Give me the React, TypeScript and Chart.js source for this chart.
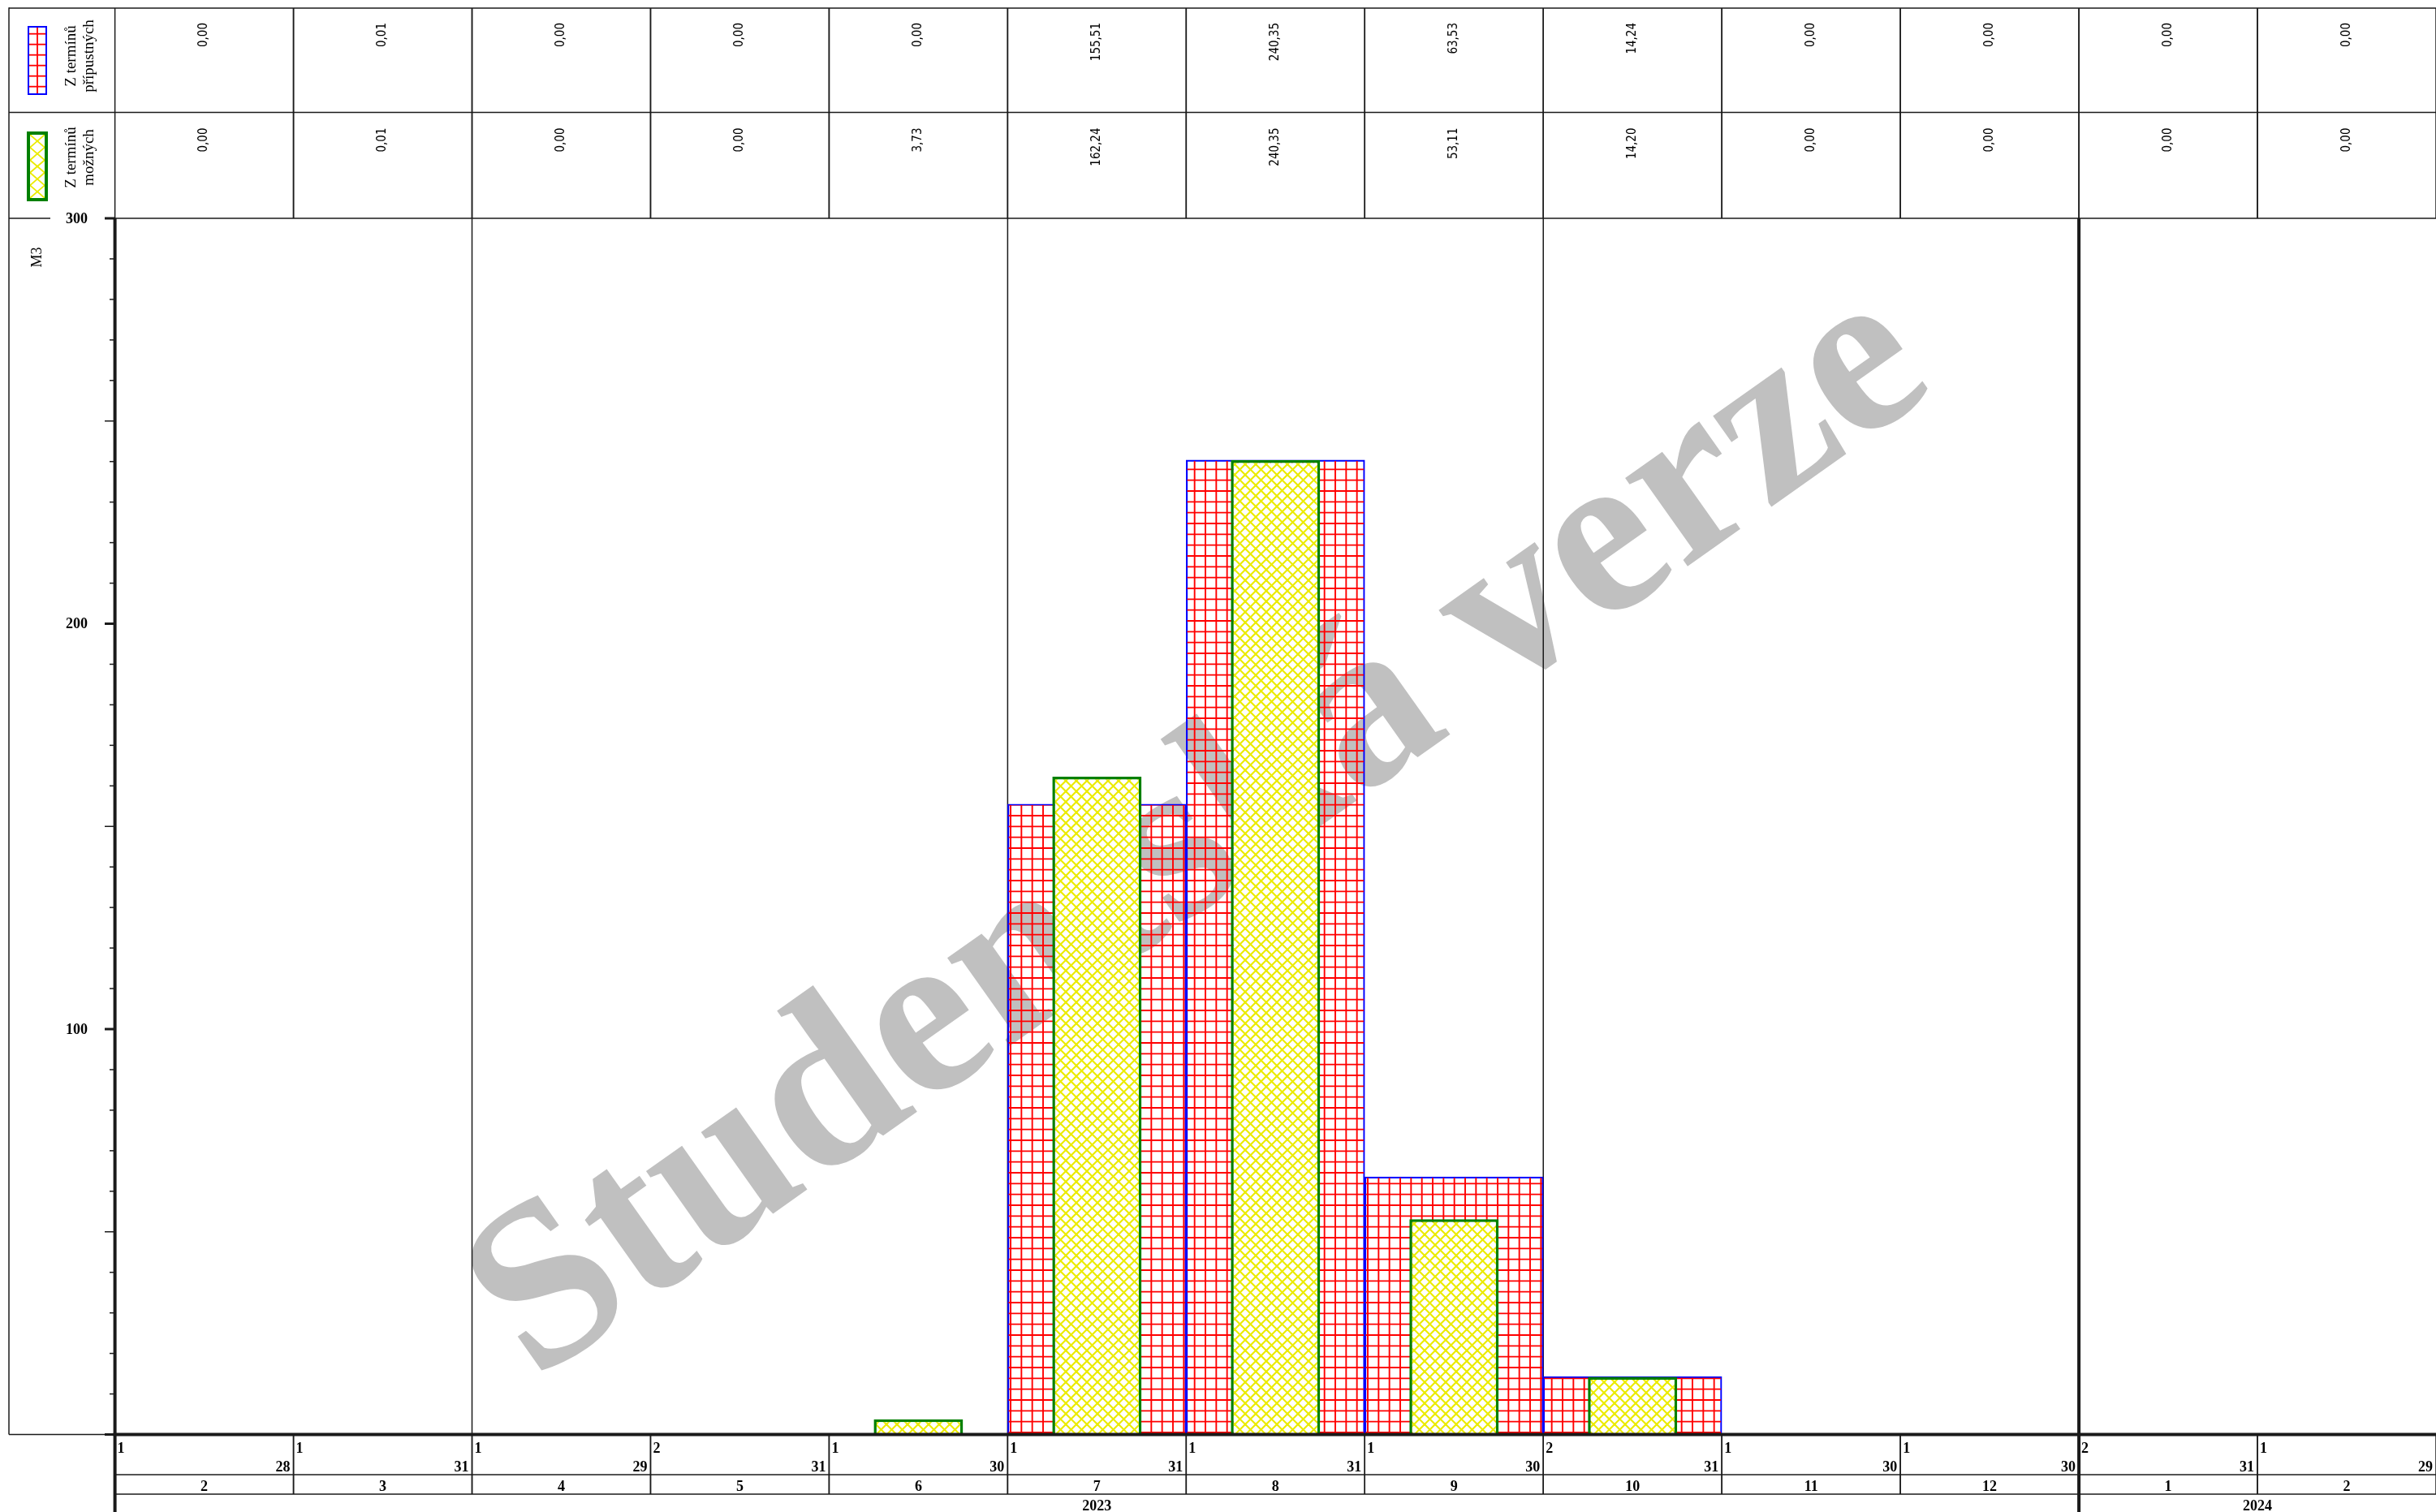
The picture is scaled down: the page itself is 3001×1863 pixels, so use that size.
import React, { useEffect, useRef } from 'react';
import { Chart, registerables } from 'chart.js';

Chart.register(...registerables);

// ---------- data ----------
const months = ['2', '3', '4', '5', '6', '7', '8', '9', '10', '11', '12', '1', '2'];
const years = ['2023', '2023', '2023', '2023', '2023', '2023', '2023', '2023', '2023', '2023', '2023', '2024', '2024'];
const firstDays = ['1', '1', '1', '2', '1', '1', '1', '1', '2', '1', '1', '2', '1'];
const lastDays = ['28', '31', '29', '31', '30', '31', '31', '30', '31', '30', '30', '31', '29'];
const pripustnych = [0.0, 0.01, 0.0, 0.0, 0.0, 155.51, 240.35, 63.53, 14.24, 0.0, 0.0, 0.0, 0.0];
const moznych = [0.0, 0.01, 0.0, 0.0, 3.73, 162.24, 240.35, 53.11, 14.2, 0.0, 0.0, 0.0, 0.0];
const yTickLabels = [100, 200, 300];
const seriesNames = [
  ['Z termínů', 'přípustných'],
  ['Z termínů', 'možných'],
];
const quarterStartMonths = ['4', '7', '10'];
const yAxisTitle = 'M3';
const watermarkText = 'Studentská verze';

// ---------- layout / style constants ----------
const W = 3001;
const H = 1863;
const LINE = '#1a1a1a';
const SERIF = "'Liberation Serif', 'Times New Roman', serif";
const VALUE_FONT = "15px 'DejaVu Sans Condensed', 'DejaVu Sans', sans-serif";
const FRAME_LEFT = 11;
const FRAME_TOP = 10;
const ROW1_BOTTOM = 138.5;
const DAY_ROW_BOTTOM = 1817;
const MONTH_ROW_BOTTOM = 1841;
const YELLOW = '#ebeb00';

const fmt = (v: number) => v.toFixed(2).replace('.', ',');

function makeGridPattern(ctx: CanvasRenderingContext2D) {
  const c = document.createElement('canvas');
  c.width = 40;
  c.height = 40;
  const g = c.getContext('2d')!;
  g.strokeStyle = '#ff0000';
  g.lineWidth = 1.9;
  for (let k = 0; k < 3; k++) {
    const p = (k * 40) / 3 + 5;
    g.beginPath();
    g.moveTo(p, 0);
    g.lineTo(p, 40);
    g.stroke();
    g.beginPath();
    g.moveTo(0, p);
    g.lineTo(40, p);
    g.stroke();
  }
  return ctx.createPattern(c, 'repeat')!;
}

function makeDiamondPattern(ctx: CanvasRenderingContext2D, s: number) {
  const c = document.createElement('canvas');
  c.width = s;
  c.height = s;
  const g = c.getContext('2d')!;
  g.fillStyle = '#ffffff';
  g.fillRect(0, 0, s, s);
  g.strokeStyle = YELLOW;
  g.lineWidth = 2.1;
  for (const o of [-s, 0, s]) {
    g.beginPath();
    g.moveTo(o, 0);
    g.lineTo(o + s, s);
    g.stroke();
    g.beginPath();
    g.moveTo(o + s, 0);
    g.lineTo(o, s);
    g.stroke();
  }
  return ctx.createPattern(c, 'repeat')!;
}

function line(ctx: CanvasRenderingContext2D, x1: number, y1: number, x2: number, y2: number, w = 1.5, color = LINE) {
  ctx.save();
  ctx.strokeStyle = color;
  ctx.lineWidth = w;
  ctx.beginPath();
  ctx.moveTo(x1, y1);
  ctx.lineTo(x2, y2);
  ctx.stroke();
  ctx.restore();
}

function colEdges(x: any): [number, number][] {
  const w = x.getPixelForValue(1) - x.getPixelForValue(0);
  return months.map((_, i) => {
    const c = x.getPixelForValue(i);
    return [c - w / 2, c + w / 2];
  });
}

function rotatedText(ctx: CanvasRenderingContext2D, text: string, x: number, y: number, align: CanvasTextAlign, font: string) {
  ctx.save();
  ctx.translate(x, y);
  ctx.rotate(-Math.PI / 2);
  ctx.font = font;
  ctx.fillStyle = '#000';
  ctx.textAlign = align;
  ctx.textBaseline = 'middle';
  ctx.fillText(text, 0, 0);
  ctx.restore();
}

const planPlugin = {
  id: 'planPlugin',
  beforeDraw(chart: any) {
    const c = chart.ctx;
    c.save();
    c.fillStyle = '#ffffff';
    c.fillRect(0, 0, chart.width, chart.height);
    c.restore();
  },
  beforeDatasetsDraw(chart: any) {
    const { ctx, chartArea: a, scales } = chart;
    const edges = colEdges(scales.x);
    // watermark
    ctx.save();
    ctx.beginPath();
    ctx.rect(a.left, a.top, a.right - a.left, a.bottom - a.top);
    ctx.clip();
    ctx.translate(1480, 1030);
    ctx.rotate((-35.3 * Math.PI) / 180);
    ctx.font = `bold 290px ${SERIF}`;
    ctx.fillStyle = '#c0c0c0';
    ctx.textAlign = 'center';
    ctx.textBaseline = 'middle';
    ctx.fillText(watermarkText, 0, 0);
    ctx.restore();
    // quarter grid lines
    months.forEach((m, i) => {
      if (quarterStartMonths.includes(m)) line(ctx, edges[i][0], a.top, edges[i][0], a.bottom, 1.5);
    });
  },
  afterDatasetsDraw(chart: any) {
    const { ctx, chartArea: a, scales } = chart;
    const x = scales.x;
    const y = scales.y;
    const edges = colEdges(x);
    const right = chart.width;
    const axisLeft = a.left;
    const rowTop2 = ROW1_BOTTOM;
    const plotTop = y.getPixelForValue(300);
    const plotBottom = y.getPixelForValue(0);

    // ---- top table ----
    line(ctx, FRAME_LEFT, FRAME_TOP, right, FRAME_TOP);
    line(ctx, FRAME_LEFT, rowTop2, right, rowTop2);
    line(ctx, FRAME_LEFT, FRAME_TOP - 0.75, FRAME_LEFT, plotBottom);
    line(ctx, FRAME_LEFT, plotTop, 62, plotTop);
    line(ctx, axisLeft, plotTop, right, plotTop);
    edges.forEach(([l, r]) => {
      line(ctx, l, FRAME_TOP, l, plotTop);
      line(ctx, r, FRAME_TOP, r, plotTop);
    });
    edges.forEach(([l, r], i) => {
      const cx = (l + r) / 2;
      rotatedText(ctx, fmt(pripustnych[i]), cx, FRAME_TOP + 18, 'right', VALUE_FONT);
      rotatedText(ctx, fmt(moznych[i]), cx, rowTop2 + 19, 'right', VALUE_FONT);
    });

    // ---- legend ----
    // swatch 1: red grid, blue border
    ctx.save();
    ctx.fillStyle = '#fff';
    ctx.fillRect(34, 32, 24, 85);
    ctx.beginPath();
    ctx.rect(34, 32, 24, 85);
    ctx.clip();
    for (let yy = 41.7; yy < 117; yy += 13) line(ctx, 34, yy, 58, yy, 1.8, '#ff0000');
    line(ctx, 46, 32, 46, 117, 1.8, '#ff0000');
    ctx.restore();
    ctx.save();
    ctx.strokeStyle = '#0000ff';
    ctx.lineWidth = 2;
    ctx.strokeRect(35, 33, 22, 83);
    ctx.restore();
    // swatch 2: yellow diamonds, green border
    ctx.save();
    ctx.fillStyle = '#008000';
    ctx.fillRect(33, 162, 26, 86);
    ctx.fillStyle = '#fff';
    const il = 37, ir = 55, it = 166, ib = 244;
    ctx.fillRect(il, it, ir - il, ib - it);
    ctx.beginPath();
    ctx.rect(il, it, ir - il, ib - it);
    ctx.clip();
    ctx.strokeStyle = YELLOW;
    ctx.lineWidth = 1.8;
    const n = 5;
    const d = (ib - it) / n;
    for (const startLeft of [true, false]) {
      ctx.beginPath();
      for (let k = 0; k <= n; k++) {
        const onLeft = k % 2 === 0 ? startLeft : !startLeft;
        const px = onLeft ? il : ir;
        const py = it + k * d;
        if (k === 0) ctx.moveTo(px, py);
        else ctx.lineTo(px, py);
      }
      ctx.stroke();
    }
    ctx.restore();
    // legend texts
    const legendFont = `19px ${SERIF}`;
    rotatedText(ctx, seriesNames[0][0], 88.5, 69, 'center', legendFont);
    rotatedText(ctx, seriesNames[0][1], 110.5, 69, 'center', legendFont);
    rotatedText(ctx, seriesNames[1][0], 88.5, 194, 'center', legendFont);
    rotatedText(ctx, seriesNames[1][1], 110.5, 194, 'center', legendFont);

    // ---- y axis ----
    rotatedText(ctx, yAxisTitle, 46, 317, 'center', `18px ${SERIF}`);
    for (let v = 0; v <= 300; v += 10) {
      const py = y.getPixelForValue(v);
      if (v % 100 === 0) line(ctx, 129, py, axisLeft, py, 3);
      else if (v % 50 === 0) line(ctx, 129, py, axisLeft, py, 1.5);
      else line(ctx, 135, py, axisLeft, py, 1.5);
    }
    ctx.save();
    ctx.font = `bold 18px ${SERIF}`;
    ctx.fillStyle = '#000';
    ctx.textAlign = 'right';
    ctx.textBaseline = 'middle';
    yTickLabels.forEach((v) => ctx.fillText(String(v), 108, y.getPixelForValue(v) + 1));
    ctx.restore();
    line(ctx, axisLeft, plotTop, axisLeft, H, 4);
    line(ctx, axisLeft, plotBottom, axisLeft, H, 1.5);

    // ---- x axis ----
    line(ctx, FRAME_LEFT, plotBottom, axisLeft, plotBottom, 1.5);
    line(ctx, axisLeft - 2, plotBottom, right, plotBottom, 4);
    line(ctx, axisLeft, DAY_ROW_BOTTOM, right, DAY_ROW_BOTTOM, 1.5);
    line(ctx, axisLeft, MONTH_ROW_BOTTOM, right, MONTH_ROW_BOTTOM, 1.5);
    edges.forEach(([l, r]) => {
      line(ctx, l, plotBottom, l, MONTH_ROW_BOTTOM);
      line(ctx, r, plotBottom, r, MONTH_ROW_BOTTOM);
    });
    ctx.save();
    ctx.font = `bold 18px ${SERIF}`;
    ctx.fillStyle = '#000';
    ctx.textBaseline = 'alphabetic';
    edges.forEach(([l, r], i) => {
      ctx.textAlign = 'left';
      ctx.fillText(firstDays[i], l + 3, 1790);
      ctx.textAlign = 'right';
      ctx.fillText(lastDays[i], r - 4, 1813);
      ctx.textAlign = 'center';
      ctx.fillText(months[i], (l + r) / 2, 1837);
    });
    // years
    let start = 0;
    for (let i = 1; i <= years.length; i++) {
      if (i === years.length || years[i] !== years[start]) {
        const l = edges[start][0];
        const r = edges[i - 1][1];
        ctx.textAlign = 'center';
        ctx.fillText(years[start], (l + r) / 2, 1861);
        start = i;
      }
    }
    ctx.restore();
    // year boundary thick lines
    years.forEach((yr, i) => {
      if (i > 0 && yr !== years[i - 1]) line(ctx, edges[i][0], plotTop, edges[i][0], H, 4);
    });
  },
};

export default function App() {
  const ref = useRef<HTMLCanvasElement>(null);
  useEffect(() => {
    document.body.style.margin = '0';
    document.body.style.overflow = 'hidden';
    const canvas = ref.current!;
    const ctx = canvas.getContext('2d')!;
    const gridPattern = makeGridPattern(ctx);
    const diamondPattern = makeDiamondPattern(ctx, 13);
    const chart = new Chart(canvas, {
      type: 'bar',
      data: {
        labels: months,
        datasets: [
          {
            label: seriesNames[0].join(' '),
            data: pripustnych,
            backgroundColor: gridPattern,
            borderColor: '#0000ff',
            borderWidth: 1.5,
            barPercentage: 1,
            categoryPercentage: 1,
            grouped: false,
            order: 2,
          } as any,
          {
            label: seriesNames[1].join(' '),
            data: moznych,
            backgroundColor: diamondPattern,
            borderColor: '#008000',
            borderWidth: 3.5,
            barPercentage: 0.5,
            categoryPercentage: 1,
            grouped: false,
            order: 1,
          } as any,
        ],
      },
      options: {
        responsive: false,
        animation: false,
        devicePixelRatio: 1,
        events: [],
        layout: { padding: { left: 141.6, top: 269, right: -2, bottom: 95.5 } },
        scales: {
          x: { display: false },
          y: { display: false, min: 0, max: 300 },
        },
        plugins: {
          legend: { display: false },
          tooltip: { enabled: false },
        },
      },
      plugins: [planPlugin],
    });
    return () => chart.destroy();
  }, []);
  return <canvas ref={ref} width={W} height={H} style={{ display: 'block', width: W, height: H }} />;
}
